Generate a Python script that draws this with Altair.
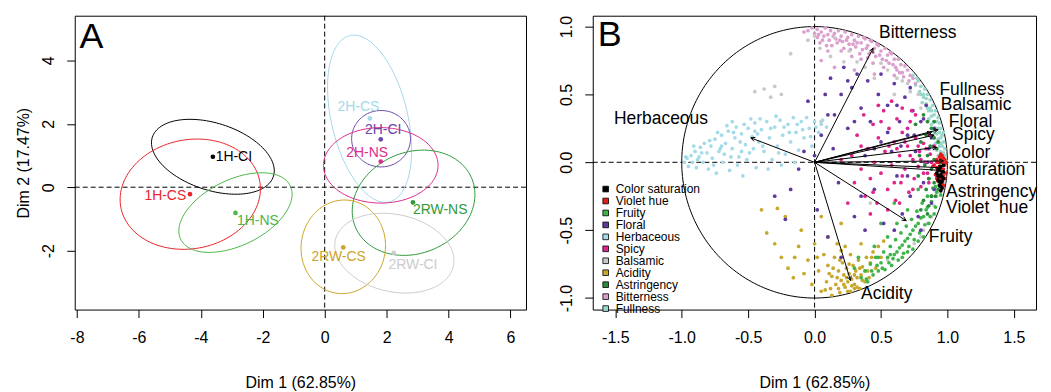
import math
import altair as alt
import pandas as pd

FONT = "Liberation Sans"

# ---------------- Panel A : individuals with confidence ellipses ----------------
groups = ["1H-CI", "1H-CS", "1H-NS", "2H-CS", "2H-CI", "2H-NS", "2RW-NS", "2RW-CS", "2RW-CI"]
group_colors = ["#000000", "#E8262B", "#4CB648", "#A4D9E8", "#6A46A8", "#DE2C8C", "#2F9A3A", "#CBA52A", "#CCCCCC"]
point_x = [-3.61, -4.35, -2.88, 1.46, 1.81, 1.81, 2.85, 0.60, 2.23]
point_y = [0.96, -0.22, -0.81, 2.17, 1.51, 0.81, -0.48, -1.90, -2.07]
ell_cx = [-3.61, -4.34, -2.88, 1.45, 1.82, 1.81, 2.87, 0.60, 2.25]
ell_cy = [0.96, -0.22, -0.80, 2.16, 1.53, 0.69, -0.49, -1.88, -2.08]
ell_a = [2.05, 2.28, 1.96, 2.70, 0.95, 1.85, 2.03, 1.48, 1.95]
ell_b = [1.06, 1.72, 1.04, 1.23, 0.89, 1.19, 1.60, 1.36, 1.22]
ell_angle = [-17.3, 10.0, 25.1, 103.8, 0.0, 0.0, 20.8, 80.0, -11.7]
label_x = [-3.52, -4.47, -2.83, 1.09, 1.89, 1.37, 2.85, 0.45, 2.85]
label_y = [0.96, -0.27, -1.06, 2.54, 1.79, 1.08, -0.71, -2.21, -2.47]
label_align = ["left", "right", "left", "center", "center", "center", "left", "center", "center"]

# ---------------- Panel B : variables ----------------
variables = ["Color saturation", "Violet hue", "Fruity", "Floral", "Herbaceous", "Spicy",
             "Balsamic", "Acidity", "Astringency", "Bitterness", "Fullness"]
var_colors = ["#000000", "#E41A1C", "#3DB54A", "#5E3A9E", "#A5DBE8", "#E0248C",
              "#C8C8C8", "#C8A82A", "#2A8A3A", "#DCA0CF", "#98D8CB"]
arrow_x = [0.97, 0.95, 0.69, 0.90, -0.48, 0.92, 0.88, 0.27, 0.96, 0.44, 0.93]
arrow_y = [0.01, -0.06, -0.43, 0.20, 0.18, 0.11, 0.22, -0.87, -0.04, 0.84, 0.24]

vlabel_text = ["Bitterness", "Herbaceous", "Fullness", "Balsamic", "Floral", "Spicy", "Color",
               "saturation", "Astringency", "Violet\u00a0 hue", "Fruity", "Acidity"]
vlabel_x = [0.485, -1.51, 0.94, 0.95, 1.01, 1.035, 1.01, 1.01, 0.99, 0.99, 0.86, 0.35]
vlabel_y = [0.95, 0.32, 0.53, 0.42, 0.30, 0.20, 0.07, -0.06, -0.22, -0.34, -0.55, -0.97]

pts_fullness = [(0.74,0.64),(0.78,0.6),(0.8,0.56),(0.83,0.54),(0.76,0.57),(0.85,0.5),(0.82,0.48),(0.87,0.46),
                (0.84,0.43),(0.89,0.42),(0.86,0.38),(0.91,0.38),(0.88,0.34),(0.93,0.33),(0.9,0.3),(0.94,0.29),
                (0.91,0.25),(0.95,0.25),(0.92,0.21),(0.96,0.2),(0.93,0.17),(0.97,0.15),(0.94,0.12),(0.98,0.1),
                (0.95,0.08),(0.98,0.05),(0.96,0.03),(0.99,0.01),(0.88,0.28),(0.9,0.18),(0.86,0.32),(0.95,0.14),
                (0.92,0.09),(0.97,0.22),(0.81,0.44),(0.79,0.52),(0.93,0.05),(0.89,0.12),
                (0.8,0.5),(0.84,0.47),(0.87,0.4),(0.9,0.35),(0.92,0.3),(0.94,0.22),(0.96,0.12),(0.97,0.07),
                (0.9,0.22),(0.93,0.25),(0.85,0.4),(0.95,0.18),(0.91,0.14),(0.88,0.38),(0.82,0.5),(0.77,0.62)]
pts_bitterness = [(-0.05,0.97),(-0.02,0.99),(0.02,0.98),(0.05,0.96),(0.08,0.99),(0.1,0.94),(0.12,0.97),(0.15,0.95),
                  (0.16,0.91),(0.18,0.97),(0.2,0.93),(0.21,0.89),(0.23,0.96),(0.25,0.92),(0.26,0.87),(0.28,0.94),
                  (0.3,0.9),(0.31,0.85),(0.33,0.93),(0.35,0.88),(0.36,0.83),(0.38,0.91),(0.4,0.86),(0.41,0.8),
                  (0.43,0.89),(0.45,0.84),(0.46,0.78),(0.48,0.86),(0.5,0.82),(0.51,0.76),(0.53,0.84),(0.55,0.79),
                  (0.56,0.73),(0.58,0.8),(0.6,0.76),(0.61,0.7),(0.63,0.76),(0.65,0.72),(0.66,0.66),(0.68,0.71),
                  (0.7,0.68),(0.72,0.64),(0.74,0.62),(0.76,0.58),(0.06,0.9),(0.13,0.86),(0.22,0.84),(0.34,0.8),
                  (0.44,0.73),(0.52,0.7),(0.6,0.64),(0.1,0.82),(0.28,0.78),(0.02,0.92),(0.37,0.92),(0.47,0.87),
                  (0.57,0.81),(0.19,0.9),(0.42,0.9),(0.64,0.66),(0.15,0.7),(0.3,0.68),(0.45,0.65),(0.05,0.75),
                  (0.0,0.95),(0.03,0.94),(0.07,0.93),(0.11,0.9),(0.14,0.93),(0.17,0.88),(0.24,0.9),(0.27,0.83),
                  (0.32,0.88),(0.39,0.84),(0.44,0.81),(0.49,0.79),(0.54,0.75),(0.59,0.72),(0.62,0.68),(0.67,0.63),
                  (0.71,0.6),(0.09,0.86),(0.2,0.82),(0.35,0.76),(-0.08,0.96),(0.04,0.88),(0.29,0.87),(0.4,0.77)]
pts_balsamic = [(-0.45,0.52),(-0.38,0.54),(-0.3,0.56),(-0.25,0.5),(-0.33,0.48),(-0.18,0.8),(-0.05,0.9),(0.0,0.93),
                (0.04,0.84),(0.12,0.78),(0.22,0.74),(0.32,0.74),(0.38,0.7),(0.5,0.73),(0.55,0.68),(0.62,0.62),
                (0.66,0.6),(0.7,0.58),(0.72,0.52),(0.78,0.5),(0.8,0.4),(0.85,0.3),(0.86,0.22),(0.9,0.1),
                (0.93,-0.05),(0.95,-0.1),(0.94,-0.18),(0.92,-0.25),(0.9,-0.32),(0.88,-0.4),(0.85,-0.45),(0.82,-0.5),
                (0.8,-0.55),(0.75,-0.6),(0.96,-0.2),(0.97,-0.15),(0.6,0.5),(0.45,0.62),(0.26,0.82),(0.15,0.92),
                (0.42,-0.3),(0.05,0.3),(0.55,-0.72)]
pts_herbaceous = [(-0.98,0.0),(-0.96,0.03),(-0.95,-0.03),(-0.93,0.05),(-0.92,0.0),(-0.9,0.08),(-0.89,-0.04),(-0.87,0.04),
                  (-0.86,0.11),(-0.84,0.0),(-0.83,0.14),(-0.81,0.07),(-0.8,-0.05),(-0.78,0.12),(-0.77,0.03),(-0.75,0.17),
                  (-0.74,-0.08),(-0.72,0.08),(-0.7,0.2),(-0.69,0.0),(-0.67,0.14),(-0.65,0.23),(-0.64,-0.06),(-0.62,0.1),
                  (-0.6,0.18),(-0.59,0.26),(-0.57,0.04),(-0.55,0.21),(-0.54,-0.1),(-0.52,0.13),(-0.5,0.25),(-0.49,0.07),
                  (-0.47,0.19),(-0.45,0.29),(-0.44,-0.04),(-0.42,0.15),(-0.4,0.24),(-0.38,0.08),(-0.36,0.3),(-0.34,0.18),
                  (-0.32,0.02),(-0.3,0.26),(-0.28,0.12),(-0.26,0.31),(-0.24,0.2),(-0.22,0.06),(-0.2,0.28),(-0.18,0.15),
                  (-0.16,0.33),(-0.14,0.22),(-0.12,0.09),(-0.1,0.3),(-0.08,0.18),(-0.06,0.33),(-0.04,0.25),(-0.02,0.12),
                  (0.0,0.3),(0.03,0.22),(0.06,0.31),(0.09,0.26),(-0.58,-0.02),(-0.68,0.06),(-0.46,0.1),(-0.35,-0.05),
                  (-0.25,-0.02),(-0.15,0.0),(-0.62,0.3),(-0.48,0.32),
                  (-0.97,0.04),(-0.91,0.12),(-0.88,0.02),(-0.85,0.07),(-0.79,0.16),(-0.76,-0.02),(-0.73,0.22),(-0.71,0.1),
                  (-0.66,0.27),(-0.63,0.04),(-0.61,0.22),(-0.56,0.15),(-0.53,0.28),(-0.51,0.02),(-0.43,0.21),(-0.41,0.32),
                  (-0.39,0.12),(-0.33,0.25),(-0.29,0.34),(-0.27,0.07),(-0.23,0.26),(-0.19,0.22),(-0.13,0.28),(-0.09,0.24),
                  (-0.03,0.19),(0.01,0.26),(0.05,0.28),(-0.7,0.12),(-0.55,0.08),(-0.45,0.23)]
pts_acidity = [(-0.4,-0.35),(-0.36,-0.52),(-0.28,-0.34),(-0.22,-0.4),(-0.25,-0.7),(-0.2,-0.78),(-0.16,-0.85),(-0.12,-0.62),
               (-0.1,-0.5),(-0.05,-0.72),(-0.02,-0.9),(0.0,-0.6),(0.03,-0.8),(0.05,-0.95),(0.07,-0.68),(0.09,-0.88),
               (0.1,-0.76),(0.12,-0.93),(0.13,-0.84),(0.15,-0.7),(0.16,-0.9),(0.18,-0.8),(0.19,-0.96),(0.2,-0.87),
               (0.21,-0.74),(0.22,-0.83),(0.23,-0.92),(0.24,-0.78),(0.25,-0.88),(0.26,-0.82),(0.27,-0.95),(0.28,-0.86),
               (0.29,-0.76),(0.3,-0.9),(0.31,-0.8),(0.32,-0.85),(0.33,-0.72),(0.34,-0.93),(0.35,-0.83),(0.36,-0.77),
               (0.38,-0.88),(0.39,-0.7),(0.4,-0.8),(0.42,-0.74),(0.44,-0.66),(0.46,-0.78),(0.48,-0.62),(0.5,-0.7),
               (0.52,-0.58),(0.2,-0.65),(0.1,-0.55),(0.17,-0.6),(0.35,-0.6),(0.05,-0.4),(0.2,-0.45),(-0.3,-0.6),
               (0.13,-0.98),(0.3,-0.93),
               (0.14,-0.78),(0.17,-0.85),(0.19,-0.72),(0.22,-0.9),(0.24,-0.85),(0.26,-0.75),(0.28,-0.91),(0.3,-0.83),
               (0.32,-0.92),(0.34,-0.78),(0.36,-0.87),(0.38,-0.8),(0.25,-0.95),(0.18,-0.93),(0.11,-0.82),(0.08,-0.94),
               (0.41,-0.85),(0.43,-0.7),(0.27,-0.68),(0.23,-0.62),(-0.08,-0.82),(-0.15,-0.7),(0.02,-0.7)]
pts_fruity = [(0.35,-0.85),(0.38,-0.8),(0.4,-0.88),(0.42,-0.75),(0.44,-0.83),(0.46,-0.7),(0.48,-0.8),(0.5,-0.74),
              (0.52,-0.66),(0.53,-0.79),(0.55,-0.7),(0.57,-0.62),(0.58,-0.76),(0.6,-0.68),(0.61,-0.57),(0.63,-0.72),
              (0.64,-0.63),(0.65,-0.52),(0.67,-0.67),(0.68,-0.58),(0.69,-0.47),(0.71,-0.62),(0.72,-0.53),(0.73,-0.42),
              (0.75,-0.57),(0.76,-0.47),(0.77,-0.36),(0.79,-0.52),(0.8,-0.41),(0.81,-0.3),(0.83,-0.46),(0.84,-0.35),
              (0.85,-0.25),(0.87,-0.4),(0.88,-0.29),(0.89,-0.19),(0.91,-0.33),(0.92,-0.22),(0.93,-0.13),(0.95,-0.24),
              (0.96,-0.1),(0.7,-0.35),(0.62,-0.45),(0.55,-0.55),(0.45,-0.62),(0.78,-0.2),(0.86,-0.12),(0.6,-0.3),
              (0.5,-0.45),(0.33,-0.7),(0.3,-0.78),(0.74,-0.64),(0.82,-0.55),
              (0.39,-0.86),(0.43,-0.8),(0.47,-0.76),(0.51,-0.78),(0.56,-0.74),(0.59,-0.71),(0.62,-0.66),(0.66,-0.61),
              (0.7,-0.56),(0.74,-0.5),(0.78,-0.45),(0.82,-0.4),(0.85,-0.33),(0.88,-0.25),(0.91,-0.18),(0.94,-0.16),
              (0.66,-0.7),(0.7,-0.66),(0.78,-0.58),(0.86,-0.45),(0.9,-0.38),(0.57,-0.68),(0.48,-0.7)]
pts_floral = [(-0.3,-0.25),(-0.22,-0.42),(-0.18,-0.2),(-0.12,-0.05),(-0.08,0.08),(-0.05,0.45),(0.0,0.05),(0.02,-0.35),
              (0.05,0.2),(0.08,0.5),(0.1,-0.55),(0.12,0.62),(0.15,0.35),(0.18,-0.15),(0.2,0.5),(0.22,0.7),
              (0.25,0.25),(0.28,0.55),(0.3,-0.4),(0.32,0.65),(0.35,0.4),(0.38,0.05),(0.4,0.6),(0.42,0.3),
              (0.45,-0.2),(0.48,0.5),(0.5,0.15),(0.52,-0.45),(0.55,0.42),(0.58,0.08),(0.6,0.58),(0.62,-0.1),
              (0.64,0.3),(0.66,-0.38),(0.68,0.48),(0.7,0.2),(0.72,-0.25),(0.74,0.38),(0.76,0.08),(0.78,-0.4),
              (0.8,0.3),(0.82,-0.15),(0.84,0.42),(0.86,0.1),(0.88,-0.3),(0.9,0.25),(0.92,-0.1),(0.5,0.65),
              (0.38,-0.5),(0.6,-0.5),(0.8,-0.5),(0.2,-0.7),(0.14,0.1),(0.72,0.55),
              (0.55,0.22),(0.65,0.12),(0.75,0.2),(0.85,0.0),(0.88,0.18),(0.7,-0.1),(0.62,0.42),(0.45,0.1),
              (0.3,0.3),(0.25,0.6),(0.1,0.35),(0.35,-0.25),(0.82,0.32),(0.9,-0.2)]
pts_spicy = [(0.28,0.05),(0.3,-0.15),(0.32,0.2),(0.35,-0.05),(0.37,0.35),(0.38,-0.25),(0.4,0.1),(0.42,-0.12),
             (0.44,0.28),(0.45,0.0),(0.47,-0.3),(0.48,0.18),(0.5,-0.08),(0.52,0.38),(0.53,0.08),(0.55,-0.2),
             (0.56,0.25),(0.58,-0.02),(0.6,0.15),(0.61,-0.28),(0.62,0.32),(0.64,0.05),(0.65,-0.15),(0.66,0.22),
             (0.68,-0.05),(0.7,0.12),(0.71,-0.22),(0.72,0.3),(0.74,0.02),(0.75,-0.12),(0.76,0.18),(0.78,-0.03),
             (0.79,0.08),(0.8,-0.18),(0.82,0.14),(0.83,0.0),(0.85,-0.08),(0.86,0.2),(0.87,0.06),(0.89,-0.03),
             (0.9,0.12),(0.66,0.4),(0.58,0.45),(0.42,-0.38),(0.55,-0.35),(0.35,0.12),(0.25,-0.3),(0.2,0.02),
             (0.48,0.42),(0.92,0.0),(0.73,0.38),
             (0.62,0.1),(0.66,-0.1),(0.7,0.25),(0.74,-0.2),(0.78,0.12),(0.8,0.02),(0.84,0.1),(0.86,-0.15),
             (0.88,0.0),(0.72,0.05),(0.56,0.12),(0.5,0.3),(0.44,-0.22),(0.6,-0.15),(0.68,0.15),(0.82,-0.08),
             (0.76,0.35),(0.64,-0.3)]
pts_astringency = [(0.82,0.35),(0.85,0.3),(0.88,0.25),(0.84,0.2),(0.9,0.18),(0.87,0.12),(0.92,0.1),(0.85,0.05),
                   (0.9,0.02),(0.94,0.0),(0.88,-0.05),(0.92,-0.08),(0.86,-0.12),(0.9,-0.15),(0.84,-0.2),(0.88,-0.25),
                   (0.82,-0.28),(0.86,-0.32),(0.8,-0.35),(0.78,-0.1),(0.8,0.15),(0.76,0.28),(0.93,-0.2),(0.95,0.05),
                   (0.83,-0.02),(0.79,0.05),(0.9,0.3),(0.93,0.15),(0.91,-0.25),(0.85,-0.38),(0.95,-0.12)]
pts_violet = [(0.9,-0.02),(0.92,0.02),(0.93,-0.06),(0.94,0.04),(0.95,-0.1),(0.96,0.0),(0.97,-0.05),(0.98,-0.12),
              (0.93,-0.14),(0.95,0.06),(0.97,0.03),(0.98,-0.02),(0.96,-0.16),(0.91,-0.09),(0.99,-0.08),(0.94,-0.03),
              (0.96,-0.12),(0.92,-0.12),(0.97,-0.17),(0.99,0.0),(0.93,0.0),(0.95,-0.05),(0.96,0.05),(0.94,-0.12),
              (0.97,-0.1),(0.92,-0.04),(0.98,0.02),(0.95,0.02)]
pts_colorsat = [(0.93,-0.05),(0.94,-0.1),(0.95,-0.03),(0.95,-0.15),(0.96,-0.07),(0.96,-0.19),(0.97,-0.12),(0.94,-0.17),
                (0.93,-0.13),(0.95,-0.21),(0.97,-0.02),(0.92,-0.08),(0.96,-0.14),(0.94,-0.06),(0.95,-0.09),(0.96,-0.11),
                (0.94,-0.14),(0.97,-0.07),(0.95,-0.18),(0.93,-0.1)]

panel_letters = ["A", "B"]
letter_x = [-7.92, -1.633]
letter_y = [4.38, 0.854]


def ellipse_frame(names, cx, cy, a, b, ang, n=120):
    rows = []
    for g, x0, y0, aa, bb, th in zip(names, cx, cy, a, b, ang):
        r = math.radians(th)
        for i in range(n + 1):
            t = 2 * math.pi * i / n
            rows.append({
                "group": g, "i": i,
                "x": x0 + aa * math.cos(t) * math.cos(r) - bb * math.sin(t) * math.sin(r),
                "y": y0 + aa * math.cos(t) * math.sin(r) + bb * math.sin(t) * math.cos(r),
            })
    return pd.DataFrame(rows)


minus_fix = "replace(datum.label, '\u2212', '-')"


def axes(xdom, ydom, xvals, yvals, fmt, ytitle):
    ax = alt.Axis(values=xvals, format=fmt, title="Dim 1 (62.85%)", labelExpr=minus_fix,
                  tickSize=8, labelPadding=12, labelFontSize=16, titleFontSize=16, titlePadding=29)
    yargs = dict(values=yvals, format=fmt, labelExpr=minus_fix, tickSize=8, labelPadding=10,
                 labelFontSize=16, labelAngle=270, labelAlign="center", labelBaseline="bottom")
    if ytitle:
        ay = alt.Axis(title=ytitle, titleFontSize=16, titlePadding=9, **yargs)
    else:
        ay = alt.Axis(title=None, **yargs)
    X = alt.X("x:Q", scale=alt.Scale(domain=xdom, nice=False, zero=False), axis=ax)
    Y = alt.Y("y:Q", scale=alt.Scale(domain=ydom, nice=False, zero=False), axis=ay)
    return X, Y


# ---------- Panel A ----------
XA, YA = axes([-8.07, 6.5], [-3.86, 5.41], [-8, -6, -4, -2, 0, 2, 4, 6], [-2, 0, 2, 4], "d", "Dim 2 (17.47%)")
colA = alt.Color("group:N", scale=alt.Scale(domain=groups, range=group_colors), legend=None)

zero_df = pd.DataFrame({"x": [0.0], "y": [0.0]})
vruleA = alt.Chart(zero_df).mark_rule(color="black", strokeWidth=1, strokeDash=[5, 3]).encode(x=XA)
hruleA = alt.Chart(zero_df).mark_rule(color="black", strokeWidth=1, strokeDash=[5, 3]).encode(y=YA)

ellA = alt.Chart(ellipse_frame(groups, ell_cx, ell_cy, ell_a, ell_b, ell_angle)).mark_line(
    strokeWidth=1).encode(x=XA, y=YA, color=colA, detail="group:N", order="i:Q")
ptsA = alt.Chart(pd.DataFrame({"group": groups, "x": point_x, "y": point_y})).mark_circle(
    size=22, opacity=1).encode(x=XA, y=YA, color=colA)
lab_df = pd.DataFrame({"group": groups, "x": label_x, "y": label_y, "al": label_align})
labA = [
    alt.Chart(lab_df).transform_filter(alt.datum.al == al).mark_text(
        align=al, baseline="middle", fontSize=14).encode(x=XA, y=YA, color=colA, text="group:N")
    for al in ["left", "right", "center"]
]
letA = alt.Chart(pd.DataFrame({"x": [letter_x[0]], "y": [letter_y[0]], "t": [panel_letters[0]]})).mark_text(
    align="left", baseline="alphabetic", fontSize=36, color="black").encode(x=XA, y=YA, text="t:N")

panelA = alt.layer(vruleA, hruleA, ellA, ptsA, *labA, letA).properties(width=453, height=295)

# ---------- Panel B ----------
XB, YB = axes([-1.67, 1.667], [-1.085, 1.08], [-1.5, -1.0, -0.5, 0.0, 0.5, 1.0, 1.5],
              [-1.0, -0.5, 0.0, 0.5, 1.0], ".1f", None)
vruleB = alt.Chart(zero_df).mark_rule(color="black", strokeWidth=1, strokeDash=[5, 3]).encode(x=XB)
hruleB = alt.Chart(zero_df).mark_rule(color="black", strokeWidth=1, strokeDash=[5, 3]).encode(y=YB)

circle = alt.Chart(ellipse_frame(["c"], [0.0], [0.0], [1.0], [1.0], [0.0], n=240)).mark_line(
    color="black", strokeWidth=1).encode(x=XB, y=YB, order="i:Q")

clouds = [("Fullness", pts_fullness), ("Bitterness", pts_bitterness), ("Balsamic", pts_balsamic),
          ("Herbaceous", pts_herbaceous), ("Acidity", pts_acidity), ("Fruity", pts_fruity),
          ("Floral", pts_floral), ("Spicy", pts_spicy), ("Astringency", pts_astringency),
          ("Violet hue", pts_violet), ("Color saturation", pts_colorsat)]
cloud_rows = []
for name, pts in clouds:
    for px, py in pts:
        cloud_rows.append({"var": name, "x": px, "y": py})
cloud_df = pd.DataFrame(cloud_rows)

colB = alt.Color("var:N", scale=alt.Scale(domain=variables, range=var_colors),
                 legend=alt.Legend(orient="none", legendX=7, legendY=168, title=None,
                                   symbolType="square", symbolSize=32, symbolStrokeColor="black",
                                   symbolStrokeWidth=0.8, symbolOpacity=1, labelFontSize=12,
                                   labelOffset=4, rowPadding=0, padding=0, labelColor="black"))
scatB = alt.Chart(cloud_df).mark_circle(size=14, opacity=1).encode(x=XB, y=YB, color=colB)

arrow_df = pd.DataFrame({"var": variables, "x": arrow_x, "y": arrow_y,
                         "x0": [0.0] * len(variables), "y0": [0.0] * len(variables)})
arrows = alt.Chart(arrow_df).mark_rule(color="black", strokeWidth=1).encode(
    x=XB, y=YB, x2="x0:Q", y2="y0:Q")

# small open arrowheads at the tips
head_rows = []
for ax_, ay_ in zip(arrow_x, arrow_y):
    phi = math.atan2(ay_, ax_)
    for d in (-0.45, 0.45):
        head_rows.append({"x": ax_, "y": ay_,
                          "x0": ax_ - 0.035 * math.cos(phi + d),
                          "y0": ay_ - 0.035 * math.sin(phi + d)})
heads = alt.Chart(pd.DataFrame(head_rows)).mark_rule(color="black", strokeWidth=1).encode(
    x=XB, y=YB, x2="x0:Q", y2="y0:Q")

vlab = alt.Chart(pd.DataFrame({"t": vlabel_text, "x": vlabel_x, "y": vlabel_y})).mark_text(
    align="left", baseline="middle", fontSize=17.5, color="black").encode(x=XB, y=YB, text="t:N")
letB = alt.Chart(pd.DataFrame({"x": [letter_x[1]], "y": [letter_y[1]], "t": [panel_letters[1]]})).mark_text(
    align="left", baseline="alphabetic", fontSize=36, color="black").encode(x=XB, y=YB, text="t:N")

panelB = alt.layer(vruleB, hruleB, circle, scatB, arrows, heads, vlab, letB).properties(width=445, height=295)

chart = alt.hconcat(panelA, panelB, spacing=31).resolve_scale(
    color="independent", x="independent", y="independent"
).properties(
    padding={"left": 7, "top": 6, "right": 5, "bottom": 0}
).configure_view(
    stroke="black", strokeWidth=1
).configure_axis(
    labelFont=FONT, titleFont=FONT, labelColor="black", titleColor="black", tickColor="black",
    grid=False, domain=False, titleFontWeight="normal"
).configure_text(font=FONT).configure_legend(labelFont=FONT)

chart.save("out.html", embed_options={"renderer": "svg", "actions": False})
